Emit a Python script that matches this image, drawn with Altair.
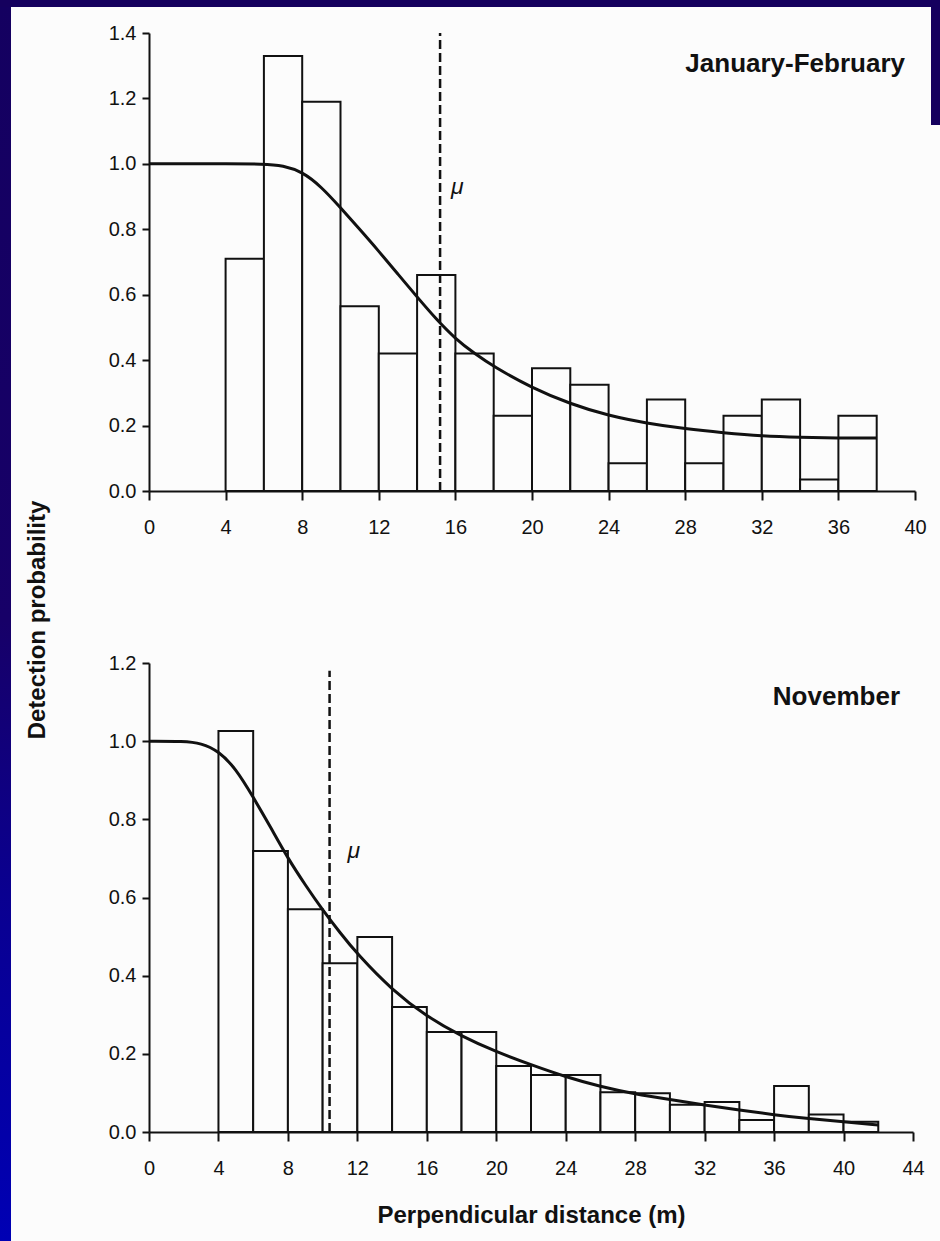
import altair as alt
import pandas as pd

# ---------------- data: January-February ----------------
jf_bin_start = [4, 6, 8, 10, 12, 14, 16, 18, 20, 22, 24, 26, 28, 30, 32, 34, 36]
jf_bin_end = [6, 8, 10, 12, 14, 16, 18, 20, 22, 24, 26, 28, 30, 32, 34, 36, 38]
jf_values = [0.71, 1.33, 1.19, 0.565, 0.42, 0.66, 0.42, 0.23, 0.375, 0.325,
             0.085, 0.28, 0.085, 0.23, 0.28, 0.035, 0.23]
jf_curve_x = [0, 2, 4, 6, 7, 8, 9, 10, 11, 12, 13, 14, 15, 16, 17, 18, 20, 22,
              24, 26, 28, 30, 32, 34, 36, 38]
jf_curve_y = [1.0, 1.0, 1.0, 1.0, 0.995, 0.976, 0.93, 0.866, 0.80, 0.733, 0.663,
              0.593, 0.525, 0.465, 0.42, 0.38, 0.315, 0.266, 0.23, 0.207, 0.19,
              0.178, 0.168, 0.164, 0.162, 0.162]
jf_mu = 15.2

# ---------------- data: November ----------------
nov_bin_start = [4, 6, 8, 10, 12, 14, 16, 18, 20, 22, 24, 26, 28, 30, 32, 34, 36, 38, 40]
nov_bin_end = [6, 8, 10, 12, 14, 16, 18, 20, 22, 24, 26, 28, 30, 32, 34, 36, 38, 40, 42]
nov_values = [1.026, 0.719, 0.570, 0.432, 0.499, 0.320, 0.256, 0.256, 0.169,
              0.146, 0.146, 0.102, 0.099, 0.07, 0.077, 0.031, 0.118, 0.045, 0.026]
nov_curve_x = [0, 2, 3, 4, 5, 6, 7, 8, 9, 10, 11, 12, 14, 16, 18, 20, 22, 24,
               26, 28, 30, 32, 34, 36, 38, 40, 42]
nov_curve_y = [1.0, 1.0, 0.995, 0.975, 0.93, 0.857, 0.78, 0.7, 0.632, 0.568,
               0.51, 0.455, 0.363, 0.295, 0.245, 0.205, 0.172, 0.141, 0.116,
               0.097, 0.083, 0.069, 0.056, 0.044, 0.034, 0.026, 0.018]
nov_mu = 10.4

jf_x_ticks = [0, 4, 8, 12, 16, 20, 24, 28, 32, 36, 40]
nov_x_ticks = [0, 4, 8, 12, 16, 20, 24, 28, 32, 36, 40, 44]
jf_y_ticks = [0.0, 0.2, 0.4, 0.6, 0.8, 1.0, 1.2, 1.4]
nov_y_ticks = [0.0, 0.2, 0.4, 0.6, 0.8, 1.0, 1.2]

FONT = "Liberation Sans"
INK = "#111111"
PAPER = "#fcfcfc"

one = pd.DataFrame({"k": [0]})


def panel(bs, be, vals, cx, cy, mu, xmax, ymax, xticks, yticks, title,
          title_xy, mu_xy, mu_top, width, height, lab_pad, xtitle=None, extras=()):
    bars = pd.DataFrame({"x0": bs, "x1": be, "v": vals})
    curve = pd.DataFrame({"x": cx, "y": cy})
    xs = alt.Scale(domain=[0, xmax], nice=False, zero=False)
    ys = alt.Scale(domain=[0, ymax], nice=False)
    xaxis_kw = dict(values=xticks, labelPadding=lab_pad, tickSize=9)
    if xtitle:
        xaxis = alt.Axis(title=xtitle, titlePadding=25, titleFontSize=24,
                         titleFontWeight="bold", titleFont=FONT, titleColor=INK,
                         **xaxis_kw)
    else:
        xaxis = alt.Axis(title=None, **xaxis_kw)
    yaxis = alt.Axis(title=None, values=yticks, format=".1f", tickSize=7,
                     labelPadding=6)

    rect = alt.Chart(bars).mark_rect(fill=PAPER, stroke=INK, strokeWidth=2).encode(
        x=alt.X("x0:Q", scale=xs, axis=xaxis),
        x2="x1:Q",
        y=alt.Y("v:Q", scale=ys, axis=yaxis),
        y2=alt.datum(0),
    )
    line = alt.Chart(curve).mark_line(color=INK, strokeWidth=3,
                                      interpolate="basis").encode(
        x=alt.X("x:Q", scale=xs), y=alt.Y("y:Q", scale=ys))
    rule_df = pd.DataFrame({"x": [mu], "y0": [0.0], "y1": [mu_top]})
    rule = alt.Chart(rule_df).mark_rule(color=INK, strokeWidth=2.5,
                                        strokeDash=[9, 4]).encode(
        x=alt.X("x:Q", scale=xs), y=alt.Y("y0:Q", scale=ys), y2="y1:Q")
    mu_df = pd.DataFrame({"x": [mu_xy[0]], "y": [mu_xy[1]], "t": ["μ"]})
    mutext = alt.Chart(mu_df).mark_text(font=FONT, fontSize=23, fontStyle="italic",
                                        color=INK).encode(
        x=alt.X("x:Q", scale=xs), y=alt.Y("y:Q", scale=ys), text="t:N")
    ttl = alt.Chart(one).mark_text(font=FONT, fontSize=26, fontWeight="bold",
                                   color=INK, align="right", baseline="middle").encode(
        x=alt.value(title_xy[0]), y=alt.value(title_xy[1]), text=alt.value(title))
    layers = list(extras) + [rect, line, rule, mutext, ttl]
    return alt.layer(*layers).properties(width=width, height=height)


# decorations: slide border and shared y title (pixel offsets from top plot origin)
OX, OY = 149, 33
left_strip = alt.Chart(one).mark_rect(
    color=alt.LinearGradient(
        gradient="linear", x1=0, x2=0, y1=0, y2=1,
        stops=[alt.GradientStop(color="#140060", offset=0),
               alt.GradientStop(color="#170068", offset=0.5),
               alt.GradientStop(color="#0a0090", offset=0.72),
               alt.GradientStop(color="#0000b4", offset=1)])
).encode(x=alt.value(-OX), x2=alt.value(-OX + 11), y=alt.value(-OY), y2=alt.value(1241 - OY))
top_strip = alt.Chart(one).mark_rect(color="#15005e").encode(
    x=alt.value(-OX), x2=alt.value(940 - OX), y=alt.value(-OY), y2=alt.value(7 - OY))
right_strip = alt.Chart(one).mark_rect(color="#15005e").encode(
    x=alt.value(931 - OX), x2=alt.value(940 - OX), y=alt.value(-OY), y2=alt.value(125 - OY))
ytitle = alt.Chart(one).mark_text(font=FONT, fontSize=24, fontWeight="bold", color=INK,
                                  angle=270, align="center", baseline="middle").encode(
    x=alt.value(38 - OX), y=alt.value(620 - OY), text=alt.value("Detection probability"))

top = panel(jf_bin_start, jf_bin_end, jf_values, jf_curve_x, jf_curve_y, jf_mu,
            40, 1.4, jf_x_ticks, jf_y_ticks, "January-February",
            (905 - OX, 64 - OY), (16.1, 0.93), 1.4, 766, 458, 17,
            extras=(left_strip, top_strip, right_strip, ytitle))
bottom = panel(nov_bin_start, nov_bin_end, nov_values, nov_curve_x, nov_curve_y, nov_mu,
               44, 1.2, nov_x_ticks, nov_y_ticks, "November",
               (900 - OX, 697 - 663), (11.8, 0.72), 1.18, 764, 469, 17,
               xtitle="Perpendicular distance (m)")

chart = alt.vconcat(top, bottom, spacing=172, bounds="flush").properties(
    padding=0, background=PAPER
).configure_view(strokeWidth=0).configure_axis(
    grid=False, domainColor=INK, domainWidth=2, tickColor=INK, tickWidth=2,
    labelFont=FONT, labelFontSize=20, labelColor=INK, labelOverlap=False,
    labelFlush=False
)

chart.save("out.html", embed_options={"renderer": "svg", "actions": False})
